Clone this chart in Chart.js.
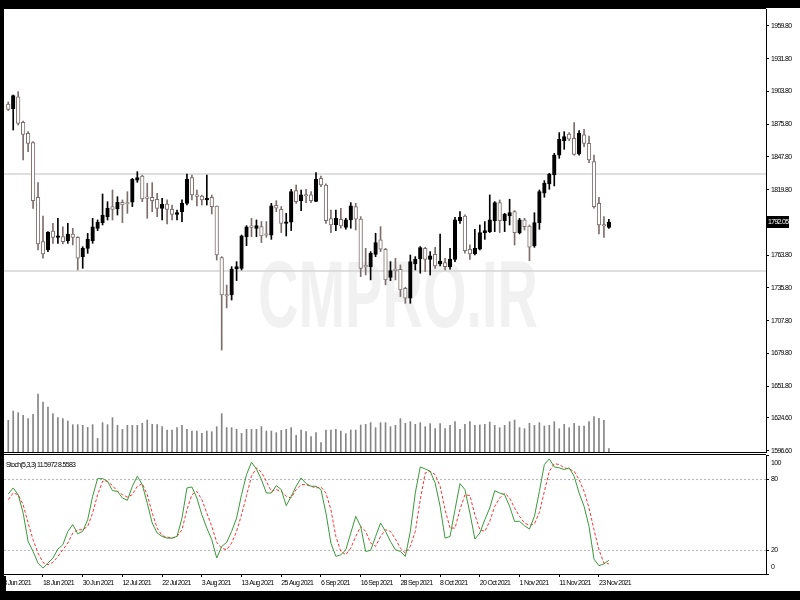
<!DOCTYPE html>
<html>
<head>
<meta charset="utf-8">
<script src="https://cdn.jsdelivr.net/npm/chart.js@4.4.1/dist/chart.umd.min.js"></script>
<style>
  body { margin: 0; background: #000; width: 800px; height: 600px; overflow: hidden; position: relative; }
  #paper { position: absolute; left: 4px; top: 8px; width: 796px; height: 583px; background: #fff; }
  canvas { position: absolute; left: 0; }
  #main { top: 0; }
  #stoch { top: 452px; }
  #edge { position: absolute; left: 0; top: 576px; width: 6px; height: 24px; background: #000; z-index: 2; }
</style>
</head>
<body>
<div id="paper"></div>
<canvas id="main" width="800" height="455"></canvas>
<canvas id="stoch" width="800" height="148"></canvas>
<div id="edge"></div>
<script>
const FONT = "'Liberation Sans', Arial, sans-serif";

// daily XAUUSD candles, 9 Jun 2021 .. 25 Nov 2021
const opens = [1893.1,1888.8,1899.3,1877.4,1868.0,1860.0,1813.2,1775.3,1768.2,1784.4,
  1779.0,1779.6,1776.2,1781.9,1779.0,1762.5,1769.6,1776.2,1786.7,1791.6,
  1796.7,1805.3,1803.3,1809.0,1808.1,1809.0,1828.0,1831.5,1813.2,1813.2,
  1811.5,1803.8,1807.5,1803.0,1798.7,1801.0,1808.1,1830.1,1814.7,1814.4,
  1811.0,1813.2,1805.8,1761.6,1729.5,1729.7,1751.9,1752.5,1779.6,1788.1,
  1786.7,1788.2,1781.6,1780.8,1806.4,1803.0,1791.0,1791.9,1819.0,1810.4,
  1815.0,1815.3,1809.8,1829.5,1823.8,1795.0,1789.6,1794.5,1787.6,1793.9,
  1805.3,1794.7,1754.5,1753.9,1764.5,1776.8,1768.8,1744.8,1751.1,1751.7,
  1735.4,1726.9,1756.2,1760.5,1769.6,1760.2,1764.5,1756.2,1757.4,1753.9,
  1760.2,1793.3,1797.3,1768.8,1764.8,1768.8,1783.1,1783.9,1793.0,1808.7,
  1793.3,1797.3,1801.0,1783.1,1793.9,1788.7,1771.6,1791.6,1816.7,1824.7,
  1832.4,1849.4,1861.7,1867.4,1863.7,1850.3,1866.6,1859.4,1843.8,1808.1,
  1789.6,1787.6];
const highs = [1894.8,1900.8,1903.6,1878.5,1869.4,1860.9,1825.8,1797.3,1783.9,1791.0,
  1795.3,1788.1,1791.0,1786.7,1779.6,1771.0,1782.4,1795.3,1793.9,1816.1,
  1809.5,1819.5,1813.8,1811.0,1818.1,1829.5,1835.2,1832.3,1825.2,1825.8,
  1816.7,1812.4,1811.0,1806.7,1802.4,1811.0,1833.2,1832.3,1819.5,1815.2,
  1832.3,1815.2,1805.8,1762.5,1738.2,1753.9,1758.2,1781.0,1789.0,1795.3,
  1793.9,1792.5,1792.5,1808.1,1810.4,1805.3,1799.6,1820.1,1823.8,1819.5,
  1820.1,1818.1,1834.4,1831.5,1824.7,1802.4,1802.4,1803.9,1795.3,1808.7,
  1808.1,1796.7,1769.6,1766.8,1782.5,1788.2,1769.6,1758.2,1761.1,1755.4,
  1736.3,1763.9,1762.5,1771.1,1770.5,1766.8,1770.5,1781.9,1761.1,1769.6,
  1796.2,1801.0,1798.2,1772.5,1785.9,1789.6,1792.5,1815.3,1809.6,1811.0,
  1799.6,1811.6,1801.9,1795.3,1795.3,1789.6,1800.1,1819.5,1827.5,1833.8,
  1850.9,1868.6,1869.4,1868.6,1877.1,1870.3,1871.4,1865.7,1849.4,1813.3,
  1796.7,1794.5];
const lows = [1887.4,1870.8,1875.1,1845.2,1852.3,1803.8,1768.2,1761.1,1766.8,1773.9,
  1773.9,1773.3,1773.9,1772.5,1751.1,1752.5,1765.3,1773.9,1784.7,1789.6,
  1793.9,1793.9,1798.1,1791.6,1799.5,1805.3,1826.1,1809.5,1795.3,1801.0,
  1796.7,1793.9,1790.4,1793.9,1793.9,1792.4,1806.7,1811.0,1805.8,1806.7,
  1806.7,1799.0,1759.6,1682.6,1718.6,1725.4,1742.0,1751.1,1771.9,1779.6,
  1779.6,1774.5,1779.1,1777.3,1801.0,1783.1,1780.2,1784.8,1808.1,1801.9,
  1808.7,1808.7,1809.6,1822.4,1791.0,1783.1,1784.8,1786.8,1785.9,1786.8,
  1785.3,1745.4,1746.8,1742.6,1762.5,1766.8,1738.3,1742.0,1742.6,1728.3,
  1722.6,1722.6,1751.1,1748.3,1749.7,1746.8,1752.5,1754.5,1751.1,1751.7,
  1758.2,1791.0,1765.4,1760.2,1763.9,1768.2,1777.3,1783.1,1783.9,1783.1,
  1783.9,1789.6,1772.5,1781.9,1785.3,1759.1,1770.5,1785.9,1813.3,1820.1,
  1823.0,1846.6,1854.3,1861.7,1849.4,1849.4,1856.6,1842.9,1803.9,1781.9,
  1779.0,1786.7];
const closes = [1888.5,1900.2,1876.5,1867.1,1859.4,1810.4,1773.3,1764.8,1783.3,1779.0,
  1780.2,1775.3,1781.9,1779.0,1761.1,1769.6,1777.3,1788.1,1791.9,1798.1,
  1803.8,1803.0,1809.0,1806.7,1807.5,1828.6,1830.1,1811.8,1812.4,1810.4,
  1803.8,1807.2,1803.0,1798.7,1800.1,1808.1,1828.6,1815.2,1814.1,1811.0,
  1812.4,1805.3,1763.9,1729.7,1728.8,1751.9,1753.9,1780.4,1788.1,1787.6,
  1789.0,1780.2,1780.8,1805.9,1803.9,1791.0,1791.9,1818.1,1809.6,1815.3,
  1814.4,1810.4,1828.7,1823.8,1793.3,1789.6,1795.3,1788.7,1793.9,1805.9,
  1794.5,1752.5,1753.7,1765.4,1774.5,1768.8,1742.6,1750.5,1750.5,1734.0,
  1726.9,1758.2,1760.2,1770.2,1760.2,1763.1,1754.5,1758.8,1753.9,1760.5,
  1793.9,1796.2,1767.7,1764.8,1769.6,1783.1,1784.8,1793.9,1808.7,1793.3,
  1799.0,1800.1,1783.1,1793.9,1788.2,1770.5,1791.6,1818.1,1825.2,1833.2,
  1849.4,1862.9,1865.1,1862.9,1850.0,1868.0,1859.4,1845.2,1805.3,1789.6,
  1788.7,1792.05];
const volumes = [95,123,118,110,100,113,174,150,135,115,
  103,100,93,82,82,80,74,82,41,88,
  82,103,80,68,80,80,80,86,96,83,
  82,76,66,66,73,80,68,63,63,56,
  63,61,76,115,73,73,68,56,68,68,
  68,76,63,63,58,65,68,73,50,66,
  61,46,58,28,66,66,68,63,55,66,
  66,81,83,88,73,88,88,76,80,100,
  86,91,83,88,76,85,70,85,70,80,
  91,68,83,91,80,81,83,90,80,73,
  80,91,96,73,70,86,80,88,78,80,
  91,70,83,73,86,78,78,91,106,101,
  95,10];
const stochK = [67.8,72.9,67.2,51.6,27.6,19.1,9.2,5.0,9.2,13.5,
  21.1,24.8,36.1,41.8,34.1,36.1,46.0,65.8,80.8,80.8,
  78.5,70.6,70.0,64.4,62.4,74.3,82.8,75.7,60.1,43.2,
  34.7,31.8,30.4,30.4,31.8,47.4,72.9,73.7,64.4,50.2,
  38.9,29.0,13.5,23.4,26.8,36.1,47.4,67.2,84.2,94.7,
  89.0,80.0,68.6,68.6,74.9,71.5,57.9,65.8,74.3,81.4,
  76.6,74.3,74.3,71.5,51.7,26.2,14.9,16.3,20.5,34.7,
  48.8,40.3,19.1,20.0,31.8,43.2,36.1,27.6,20.5,19.1,
  14.9,36.1,68.6,90.7,89.0,87.0,77.1,57.3,30.4,31.8,
  54.5,76.6,71.5,51.7,29.6,34.7,46.0,55.9,70.6,68.6,
  67.2,57.3,44.6,44.6,40.9,38.1,48.8,70.0,92.7,97.5,
  90.7,89.9,88.5,89.9,82.8,68.6,57.3,40.3,12.6,7.0,
  8.6,11.6];
const stochD = [63.0,68.6,67.2,58.7,43.2,29.0,17.7,9.8,7.8,9.8,
  14.9,20.5,26.2,34.7,37.5,37.5,40.3,51.7,67.2,78.5,
  78.5,74.9,70.0,67.2,65.2,67.2,74.3,76.6,67.2,51.7,
  38.9,32.4,31.3,30.4,31.8,37.5,54.5,67.2,70.0,63.0,
  51.7,40.3,26.8,21.9,20.5,26.2,36.1,50.2,66.4,82.8,
  89.9,86.2,78.5,70.0,71.5,70.0,65.8,64.4,71.5,75.7,
  75.7,74.3,72.9,73.7,68.6,54.5,31.8,19.1,16.3,21.9,
  31.8,40.3,36.1,26.2,23.4,31.8,37.5,36.1,29.6,21.9,
  17.7,23.4,36.1,63.0,85.6,87.0,84.2,74.3,54.5,38.9,
  38.9,54.5,67.2,66.4,50.2,37.5,36.1,44.6,57.3,64.4,
  68.6,64.4,55.9,48.8,43.2,41.2,42.6,52.2,70.0,87.0,
  93.5,92.7,89.9,89.0,87.0,80.0,70.0,55.9,37.5,20.5,
  9.2,8.56];

const dateTickIndex = [-1, 7, 15, 23, 31, 39, 47, 55, 63, 71, 79, 87, 95, 103, 111, 119];
const dateLabels = ['8 Jun 2021', '18 Jun 2021', '30 Jun 2021', '12 Jul 2021', '22 Jul 2021',
  '3 Aug 2021', '13 Aug 2021', '25 Aug 2021', '6 Sep 2021', '16 Sep 2021', '28 Sep 2021',
  '8 Oct 2021', '20 Oct 2021', '1 Nov 2021', '11 Nov 2021', '23 Nov 2021'];
const priceTicks = [1959.8, 1931.8, 1903.8, 1875.8, 1847.8, 1819.8, 1763.8, 1735.8,
  1707.8, 1679.8, 1651.8, 1624.6, 1596.6];
const levelPrices = [1833.2, 1750.2];
const stochLevels = [80, 20];
const stochTicks = [100, 80, 20, 0];
const stochTitle = 'Stoch(5,3,3) 11.5972 8.5583';
const watermarkText = 'CMPRO.IR';

// visible bar range (empty space on the right like the terminal)
const X_MIN = -0.856, X_MAX = 152.65;

const isUp = closes.map((c, i) => c >= opens[i]);
const DOWN_LINE = '#7d6e6e';

const fixWidth = w => scale => {
  scale.width = w;
  scale.paddingTop = 0;
  scale.paddingBottom = 0;
};

// terminal fonts are very condensed: tighten the letters for every label
const tightText = {
  id: 'tightText',
  beforeDraw(chart) { chart.ctx.letterSpacing = '-0.7px'; }
};

const watermark = {
  id: 'watermark',
  beforeDatasetsDraw(chart) {
    const ctx = chart.ctx;
    ctx.save();
    ctx.letterSpacing = '0px';
    ctx.font = "bold 94px 'Liberation Sans', Arial, sans-serif";
    const w = ctx.measureText(watermarkText).width;
    ctx.translate(398, 327);
    ctx.scale(280 / w, 1);
    ctx.fillStyle = '#f1f1f1';
    ctx.textAlign = 'center';
    ctx.textBaseline = 'alphabetic';
    ctx.fillText(watermarkText, 0, 0);
    ctx.restore();
  }
};

const frame = {
  id: 'frame',
  afterDraw(chart) {
    const {ctx, chartArea: a} = chart;
    ctx.save();
    ctx.strokeStyle = '#000';
    ctx.lineWidth = 1;
    ctx.beginPath();
    ctx.moveTo(a.left, a.top - 0.5);
    ctx.lineTo(a.right, a.top - 0.5);
    ctx.moveTo(a.left, a.bottom + 0.5);
    ctx.lineTo(a.right, a.bottom + 0.5);
    ctx.stroke();
    ctx.restore();
  }
};

const priceTag = {
  id: 'priceTag',
  afterDraw(chart) {
    const {ctx, chartArea: a} = chart;
    const last = closes[closes.length - 1];
    const y = Math.round(chart.scales.y.getPixelForValue(last));
    ctx.save();
    ctx.fillStyle = '#000';
    ctx.fillRect(a.right, y - 6, 23, 12);
    ctx.fillStyle = '#fff';
    ctx.font = '7px ' + FONT;
    ctx.textBaseline = 'middle';
    ctx.fillText(last.toFixed(2), a.right + 2, y);
    ctx.restore();
  }
};

new Chart(document.getElementById('main'), {
  type: 'bar',
  data: {
    datasets: [
      ...levelPrices.map(p => ({
        type: 'line',
        data: [{x: X_MIN, y: p}, {x: X_MAX, y: p}],
        borderColor: '#d4d4d4',
        borderWidth: 1.5,
        pointRadius: 0,
        fill: false,
        order: 10
      })),
      {
        data: volumes.map((v, i) => ({x: i, y: v})),
        yAxisID: 'yv',
        backgroundColor: '#858585',
        barThickness: 1,
        grouped: false,
        order: 9
      },
      {
        data: closes.map((c, i) => ({x: i, y: [lows[i], highs[i]]})),
        backgroundColor: isUp.map(u => u ? '#000' : DOWN_LINE),
        barThickness: 1,
        grouped: false,
        order: 2
      },
      {
        data: closes.map((c, i) => ({x: i, y: [opens[i], c]})),
        backgroundColor: isUp.map(u => u ? '#000' : '#fff'),
        borderColor: isUp.map(u => u ? '#000' : DOWN_LINE),
        borderWidth: 1,
        borderSkipped: false,
        barThickness: 3.6,
        minBarLength: 1.5,
        grouped: false,
        order: 1
      }
    ]
  },
  options: {
    responsive: false,
    animation: false,
    events: [],
    layout: {padding: {left: 4, top: 9, right: 0, bottom: 3}},
    plugins: {legend: {display: false}, tooltip: {enabled: false}},
    scales: {
      x: {type: 'linear', min: X_MIN, max: X_MAX, offset: false, display: false},
      y: {
        position: 'right',
        min: 1595.39,
        max: 1974.34,
        afterBuildTicks: s => { s.ticks = priceTicks.map(v => ({value: v})); },
        afterFit: fixWidth(34),
        ticks: {
          callback: v => v.toFixed(2),
          color: '#000',
          padding: 2,
          font: {family: FONT, size: 7}
        },
        grid: {drawOnChartArea: false, drawTicks: true, tickLength: 3, color: '#000'},
        border: {display: true, color: '#000'}
      },
      yv: {display: false, min: 0, max: 1329}
    }
  },
  plugins: [tightText, watermark, frame, priceTag]
});

const stochTitlePlugin = {
  id: 'stochTitle',
  afterDraw(chart) {
    const ctx = chart.ctx;
    ctx.save();
    ctx.fillStyle = '#000';
    ctx.font = '7px ' + FONT;
    ctx.textBaseline = 'middle';
    ctx.fillText(stochTitle, chart.chartArea.left + 2, chart.chartArea.top + 10);
    ctx.restore();
  }
};

new Chart(document.getElementById('stoch'), {
  type: 'line',
  data: {
    datasets: [
      ...stochLevels.map(l => ({
        data: [{x: X_MIN, y: l}, {x: X_MAX, y: l}],
        borderColor: '#b4b4b4',
        borderWidth: 1,
        borderDash: [2, 2],
        pointRadius: 0,
        order: 10
      })),
      {
        data: stochD.map((v, i) => ({x: i, y: v})),
        borderColor: '#ff3030',
        borderWidth: 1,
        borderDash: [3, 2],
        pointRadius: 0,
        order: 2
      },
      {
        data: stochK.map((v, i) => ({x: i, y: v})),
        borderColor: '#3a993a',
        borderWidth: 1,
        pointRadius: 0,
        order: 1
      }
    ]
  },
  options: {
    responsive: false,
    animation: false,
    events: [],
    layout: {padding: {left: 4, top: 3, right: 0, bottom: 0}},
    plugins: {legend: {display: false}, tooltip: {enabled: false}},
    scales: {
      x: {
        type: 'linear',
        min: X_MIN,
        max: X_MAX,
        afterBuildTicks: s => { s.ticks = dateTickIndex.map(v => ({value: v})); },
        afterFit: s => { s.height = 26; s.paddingLeft = 0; s.paddingRight = 0; },
        ticks: {
          callback: (v, i) => dateLabels[i],
          align: 'start',
          autoSkip: false,
          maxRotation: 0,
          minRotation: 0,
          padding: 2,
          color: '#000',
          font: {family: FONT, size: 7}
        },
        grid: {drawOnChartArea: false, drawTicks: true, tickLength: 3, color: '#000'},
        border: {display: true, color: '#000'}
      },
      y: {
        position: 'right',
        min: 0,
        max: 100.8,
        afterBuildTicks: s => { s.ticks = stochTicks.map(v => ({value: v})); },
        afterFit: fixWidth(34),
        ticks: {
          callback: v => v === 100 ? ['', '', '100'] : (v === 0 ? ['0', '', ''] : String(v)),
          color: '#000',
          padding: 2,
          font: {family: FONT, size: 7, lineHeight: 1}
        },
        grid: {drawOnChartArea: false, drawTicks: true, tickLength: 3, color: '#000'},
        border: {display: true, color: '#000'}
      }
    }
  },
  plugins: [tightText, frame, stochTitlePlugin]
});
</script>
</body>
</html>
